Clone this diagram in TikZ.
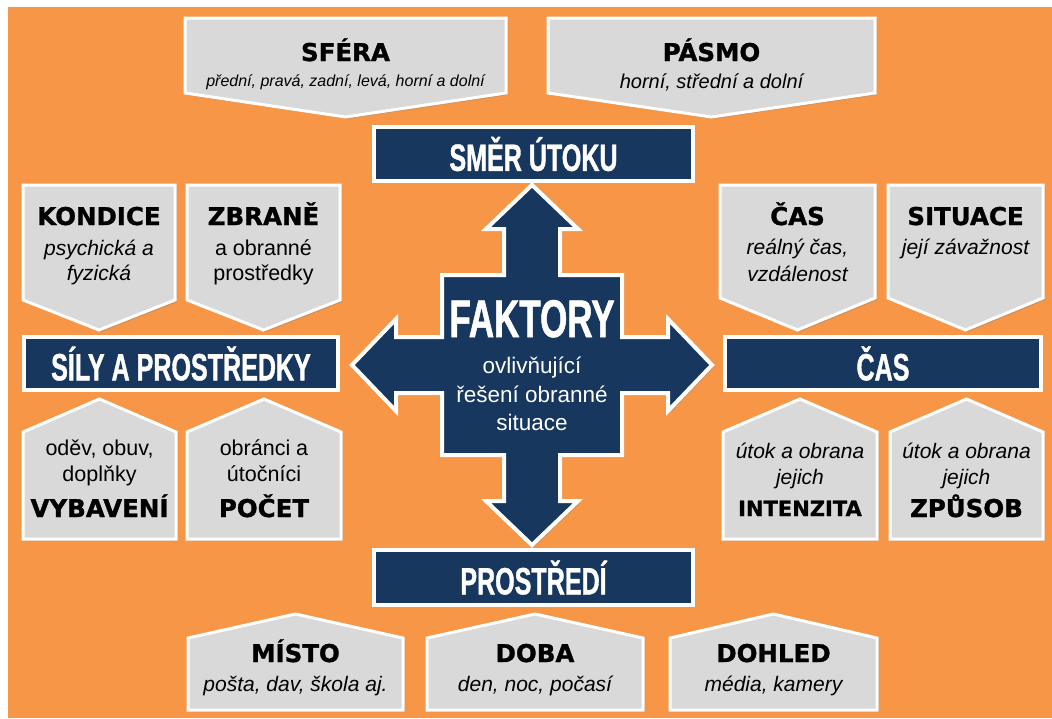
\documentclass[tikz,border=0pt]{standalone}
\usepackage{fontspec}
\setmainfont{Liberation Sans}
\newfontfamily\heavyfont{DejaVu Sans}[BoldFeatures={FakeBold=1.2}]
\newfontfamily\navyfont{Liberation Sans}[FakeStretch=0.66,BoldFeatures={FakeBold=1}]
\usetikzlibrary{shadows}
\definecolor{bgorange}{HTML}{F79646}
\definecolor{navy}{HTML}{17375E}
\definecolor{boxgray}{HTML}{D9D9D9}
\begin{document}
\begin{tikzpicture}[x=1pt,y=-1pt]
\tikzstyle{shade}=[drop shadow={shadow xshift=2pt,shadow yshift=-2pt,opacity=0.35}]
\tikzstyle{graybox}=[shade,fill=boxgray,draw=white,line width=3pt]
\tikzstyle{navybox}=[shade,fill=navy,draw=white,line width=4pt,text=white,inner sep=0pt,font=\navyfont\bfseries\fontsize{38}{40}\selectfont]
\tikzstyle{title}=[anchor=base,inner sep=0pt,font=\heavyfont\bfseries\fontsize{24.5}{28}\selectfont]
\tikzstyle{txt}=[anchor=base,inner sep=0pt,font=\fontsize{21.5}{25}\selectfont]
\tikzstyle{ittxt}=[anchor=base,inner sep=0pt,font=\itshape\fontsize{21}{25}\selectfont]
\tikzstyle{wtxt}=[anchor=base,inner sep=0pt,text=white,font=\fontsize{22.5}{25}\selectfont]
\newcommand{\downbox}[5]{\filldraw[graybox] (#1,#3) -- (#2,#3) -- (#2,#4) -- ({(#1+#2)/2},#5) -- (#1,#4) -- cycle;}
\newcommand{\upbox}[5]{\filldraw[graybox] (#1,#5) -- (#1,#4) -- ({(#1+#2)/2},#3) -- (#2,#4) -- (#2,#5) -- cycle;}
\useasboundingbox (0,0) rectangle (1052,718);
\fill[white] (0,0) rectangle (1052,718);
\fill[bgorange] (8,7) rectangle (1052,718);
% gray boxes
\downbox{185}{506}{18}{93}{117}
\downbox{548}{875}{18}{93}{117}
\downbox{23}{175}{185}{300}{330}
\downbox{187}{340}{185}{300}{330}
\downbox{720}{875}{185}{298}{330}
\downbox{888}{1043}{185}{298}{330}
\upbox{23}{176}{399}{432}{539}
\upbox{187}{341}{399}{432}{539}
\upbox{723}{877}{399}{432}{539}
\upbox{890}{1043}{399}{432}{539}
\upbox{188}{403}{614}{638}{710}
\upbox{427}{643}{614}{638}{710}
\upbox{670}{877}{614}{638}{710}
% central cross
\filldraw[shade,fill=navy,draw=white,line width=4pt,shift={(532,365)}]
  (-90,-90) -- (-28,-90) -- (-28,-136) -- (-46,-136) -- (0,-180) -- (46,-136) -- (28,-136) -- (28,-90)
  -- (90,-90) -- (90,-28) -- (136,-28) -- (136,-46) -- (180,0) -- (136,46) -- (136,28) -- (90,28)
  -- (90,90) -- (28,90) -- (28,136) -- (46,136) -- (0,180) -- (-46,136) -- (-28,136) -- (-28,90)
  -- (-90,90) -- (-90,28) -- (-136,28) -- (-136,46) -- (-180,0) -- (-136,-46) -- (-136,-28) -- (-90,-28) -- cycle;
\node[wtxt,font=\navyfont\bfseries\fontsize{53}{55}\selectfont] (faktory) at (532,337) {FAKTORY};
\node[wtxt] (faktory-1) at (532,373) {ovlivňující};
\node[wtxt] (faktory-2) at (532,402) {řešení obranné};
\node[wtxt] (faktory-3) at (532,430) {situace};
% navy boxes
\node[navybox,minimum width=319,minimum height=54] (smer) at (533.5,154) {SMĚR ÚTOKU};
\node[navybox,minimum width=314,minimum height=53] (sily) at (181,363.5) {SÍLY A PROSTŘEDKY};
\node[navybox,minimum width=316,minimum height=53] (cas) at (883,363.5) {ČAS};
\node[navybox,minimum width=319,minimum height=55] (prostredi) at (533.5,577.5) {PROSTŘEDÍ};
% texts
\node[title] (sfera) at (345.5,61) {SFÉRA};
\node[ittxt,font=\itshape\fontsize{16}{20}\selectfont] (sfera-1) at (345.5,86) {přední, pravá, zadní, levá, horní a dolní};
\node[title] (pasmo) at (711.5,61) {PÁSMO};
\node[ittxt,font=\itshape\fontsize{20}{24}\selectfont] (pasmo-1) at (711.5,88) {horní, střední a dolní};
\node[title] (kondice) at (99,225) {KONDICE};
\node[ittxt] (kondice-1) at (99,255) {psychická a};
\node[ittxt] (kondice-2) at (99,280) {fyzická};
\node[title] (zbrane) at (263.5,225) {ZBRANĚ};
\node[txt] (zbrane-1) at (263.5,255) {a obranné};
\node[txt] (zbrane-2) at (263.5,280) {prostředky};
\node[title] (cas-small) at (797.5,225) {ČAS};
\node[ittxt] (cas-small-1) at (797.5,254) {reálný čas,};
\node[ittxt] (cas-small-2) at (797.5,281) {vzdálenost};
\node[title] (situace) at (965.5,225) {SITUACE};
\node[ittxt] (situace-1) at (965.5,254) {její závažnost};
\node[txt] (vybaveni-1) at (99.5,455) {oděv, obuv,};
\node[txt] (vybaveni-2) at (99.5,481) {doplňky};
\node[title] (vybaveni) at (99.5,517) {VYBAVENÍ};
\node[txt] (pocet-1) at (264,455) {obránci a};
\node[txt] (pocet-2) at (264,481) {útočníci};
\node[title] (pocet) at (264,517) {POČET};
\node[ittxt] (intenzita-1) at (800,458) {útok a obrana};
\node[ittxt] (intenzita-2) at (800,484) {jejich};
\node[title,font=\heavyfont\bfseries\fontsize{21}{25}\selectfont] (intenzita) at (800,516) {INTENZITA};
\node[ittxt] (zpusob-1) at (966.5,458) {útok a obrana};
\node[ittxt] (zpusob-2) at (966.5,484) {jejich};
\node[title] (zpusob) at (966.5,517) {ZPŮSOB};
\node[title] (misto) at (295.5,662) {MÍSTO};
\node[ittxt] (misto-1) at (295.5,691) {pošta, dav, škola aj.};
\node[title] (doba) at (535,662) {DOBA};
\node[ittxt] (doba-1) at (535,691) {den, noc, počasí};
\node[title] (dohled) at (773.5,662) {DOHLED};
\node[ittxt] (dohled-1) at (773.5,691) {média, kamery};
\end{tikzpicture}
\end{document}
